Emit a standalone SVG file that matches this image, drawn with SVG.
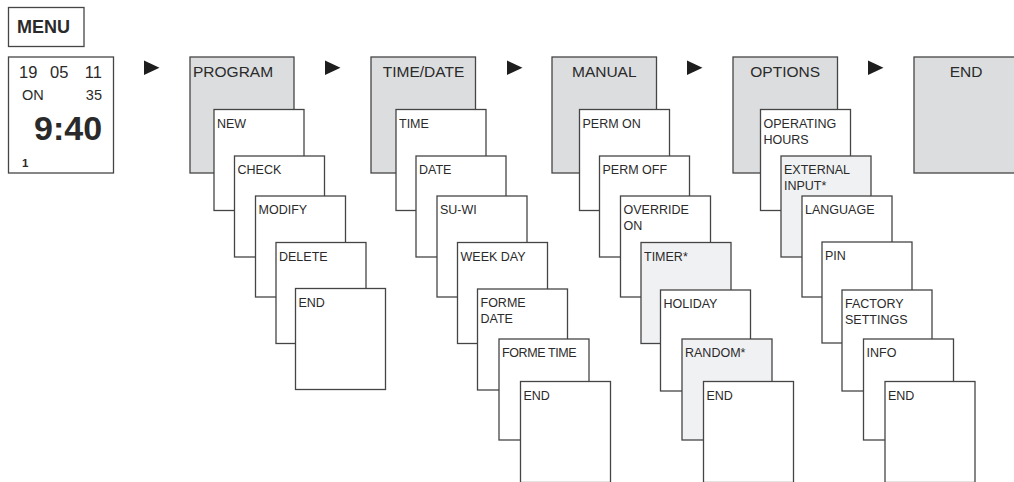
<svg xmlns="http://www.w3.org/2000/svg" width="1014" height="482" viewBox="0 0 1014 482">
<style>
rect{stroke:#454545;stroke-width:1.3}
.w{fill:#ffffff}
.h{fill:#dcdddf}
.o{fill:#f0f1f3}
text{font-family:"Liberation Sans",Arial,sans-serif;fill:#2a2a2a}
.ht{font-size:15.5px}
.st{font-size:12.5px}
.c{text-anchor:middle}
.arr{fill:#1e1e1e}
</style>
<rect width="1014" height="482" fill="#ffffff" style="stroke:none"/>
<g id="menu">
<rect class="w" x="8.5" y="7.5" width="75.5" height="39"/>
<text x="17" y="33" style="font-size:18px;font-weight:bold">MENU</text>
</g>
<g id="display">
<rect class="w" x="8.5" y="57" width="105" height="116"/>
<text x="19" y="78" style="font-size:16.5px">19</text>
<text x="50" y="78" style="font-size:16.5px">05</text>
<text x="102" y="78" style="font-size:16.5px;text-anchor:end">11</text>
<text x="22" y="99.5" style="font-size:14.5px">ON</text>
<text x="102" y="99.5" style="font-size:14.5px;text-anchor:end">35</text>
<text x="34" y="140" style="font-size:34px;font-weight:bold">9:40</text>
<text x="22" y="167" style="font-size:11.5px;font-weight:bold">1</text>
</g>
<g id="connectors">
<polygon class="arr" points="144,60.5 159.5,67.7 144,75"/>
<polygon class="arr" points="325,60.5 340.5,67.7 325,75"/>
<polygon class="arr" points="507,60.5 522.5,67.7 507,75"/>
<polygon class="arr" points="687,60.5 702.5,67.7 687,75"/>
<polygon class="arr" points="868,60.5 883.5,67.7 868,75"/>
</g>
<g id="program">
<rect class="h" x="190" y="57" width="104" height="116"/>
<text class="ht" x="193" y="77">PROGRAM</text>
</g>
<g id="prog-new"><rect class="w" x="214" y="109.5" width="90" height="101"/><text class="st" x="217" y="127.5">NEW</text></g>
<g id="prog-check"><rect class="w" x="234.5" y="156" width="90" height="101"/><text class="st" x="237.5" y="174">CHECK</text></g>
<g id="prog-modify"><rect class="w" x="255.5" y="196" width="90" height="101"/><text class="st" x="258.5" y="214">MODIFY</text></g>
<g id="prog-delete"><rect class="w" x="276" y="242.5" width="90" height="101"/><text class="st" x="279" y="260.5">DELETE</text></g>
<g id="prog-end"><rect class="w" x="295.5" y="288.5" width="90" height="101"/><text class="st" x="298.5" y="306.5">END</text></g>

<g id="timedate">
<rect class="h" x="371" y="57" width="104.5" height="116"/>
<text class="ht c" x="423.5" y="77">TIME/DATE</text>
</g>
<g id="td-time"><rect class="w" x="396" y="109.5" width="90" height="101"/><text class="st" x="399" y="127.5">TIME</text></g>
<g id="td-date"><rect class="w" x="416" y="156" width="90" height="101"/><text class="st" x="419" y="174">DATE</text></g>
<g id="td-suwi"><rect class="w" x="437" y="196" width="90" height="101"/><text class="st" x="440" y="214">SU-WI</text></g>
<g id="td-weekday"><rect class="w" x="457.5" y="242.5" width="90" height="101"/><text class="st" x="460.5" y="260.5">WEEK DAY</text></g>
<g id="td-formedate"><rect class="w" x="477.5" y="289" width="90" height="101"/><text class="st" x="480.5" y="307">FORME</text><text class="st" x="480.5" y="323">DATE</text></g>
<g id="td-formetime"><rect class="w" x="499" y="339" width="90" height="101"/><text class="st" x="502" y="357" style="letter-spacing:-0.4px">FORME TIME</text></g>
<g id="td-end"><rect class="w" x="520.5" y="381.5" width="90" height="101"/><text class="st" x="523.5" y="399.5">END</text></g>

<g id="manual">
<rect class="h" x="552" y="57" width="104.5" height="116"/>
<text class="ht c" x="604.3" y="77">MANUAL</text>
</g>
<g id="man-permon"><rect class="w" x="579.5" y="109.5" width="90" height="101"/><text class="st" x="582.5" y="127.5">PERM ON</text></g>
<g id="man-permoff"><rect class="w" x="599.5" y="156" width="90" height="101"/><text class="st" x="602.5" y="174">PERM OFF</text></g>
<g id="man-override"><rect class="w" x="620.5" y="196" width="90" height="101"/><text class="st" x="623.5" y="214">OVERRIDE</text><text class="st" x="623.5" y="230">ON</text></g>
<g id="man-timer"><rect class="o" x="641" y="242.5" width="90" height="101"/><text class="st" x="644" y="260.5">TIMER*</text></g>
<g id="man-holiday"><rect class="w" x="660.5" y="290" width="90" height="101"/><text class="st" x="663.5" y="308">HOLIDAY</text></g>
<g id="man-random"><rect class="o" x="682" y="339" width="90" height="101"/><text class="st" x="685" y="357">RANDOM*</text></g>
<g id="man-end"><rect class="w" x="703.5" y="381.5" width="90" height="101"/><text class="st" x="706.5" y="399.5">END</text></g>

<g id="options">
<rect class="h" x="733" y="57" width="104.5" height="116"/>
<text class="ht c" x="785.2" y="77">OPTIONS</text>
</g>
<g id="opt-hours"><rect class="w" x="760.5" y="109.5" width="90" height="101"/><text class="st" x="763.5" y="127.5">OPERATING</text><text class="st" x="763.5" y="143.5">HOURS</text></g>
<g id="opt-extinput"><rect class="o" x="781" y="156" width="90" height="101"/><text class="st" x="784" y="174">EXTERNAL</text><text class="st" x="784" y="190">INPUT*</text></g>
<g id="opt-language"><rect class="w" x="802" y="196" width="90" height="101"/><text class="st" x="805" y="214">LANGUAGE</text></g>
<g id="opt-pin"><rect class="w" x="822" y="242" width="90" height="101"/><text class="st" x="825" y="260">PIN</text></g>
<g id="opt-factory"><rect class="w" x="842" y="290" width="90" height="101"/><text class="st" x="845" y="308">FACTORY</text><text class="st" x="845" y="324">SETTINGS</text></g>
<g id="opt-info"><rect class="w" x="863.5" y="339" width="90" height="101"/><text class="st" x="866.5" y="357">INFO</text></g>
<g id="opt-end"><rect class="w" x="885" y="381.5" width="90" height="101"/><text class="st" x="888" y="399.5">END</text></g>

<g id="end">
<rect class="h" x="914" y="57" width="104" height="116"/>
<text class="ht c" x="966" y="77">END</text>
</g>
</svg>
